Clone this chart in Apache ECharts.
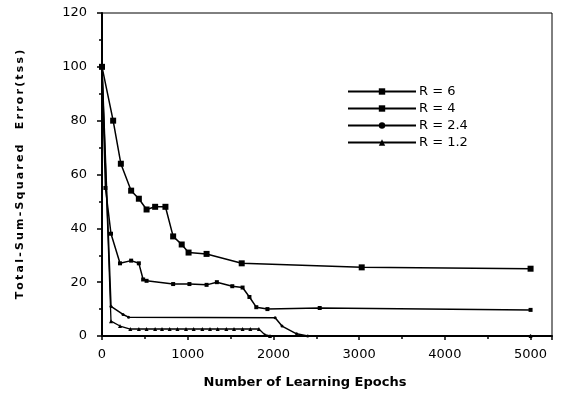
<!DOCTYPE html>
<html><head><meta charset="utf-8">
<script src="https://cdn.jsdelivr.net/npm/echarts@6/dist/echarts.min.js"></script>
<style>html,body{margin:0;padding:0;background:#fff}#c{width:570px;height:394px}</style>
</head><body><div id="c"></div>
<script>
const seriesNames = ['R = 6', 'R = 4', 'R = 2.4', 'R = 1.2'];
const r6 = [[0,100],[130,80],[220,64],[340,54],[430,51],[520,47],[620,48],[740,48],[830,37],[930,34],[1010,31],[1220,30.5],[1630,27],[3030,25.5],[5000,25]];
const r4 = [[0,100],[40,55],[105,38],[210,27],[340,28],[430,27],[480,21],[520,20.5],[830,19.3],[1020,19.3],[1220,19],[1340,20],[1520,18.5],[1640,18],[1720,14.5],[1800,10.7],[1930,10],[2540,10.4],[5000,9.7]];
const r24 = [[0,100],[105,11],[245,8],[310,7],[2020,6.8],[2100,3.7],[2270,0.8],[2400,0],[5000,0]];
const r12 = [[0,100],[105,5.5],[210,3.7],[330,2.6],[430,2.6],[520,2.6],[620,2.6],[700,2.6],[790,2.6],[880,2.6],[980,2.6],[1070,2.6],[1170,2.6],[1260,2.6],[1350,2.6],[1450,2.6],[1540,2.6],[1640,2.6],[1730,2.6],[1830,2.6],[1900,0.5],[1960,0],[5000,0]];
const yTicks = [0,20,40,60,80,100,120];
const xTicks = [0,1000,2000,3000,4000,5000];
const xTitle = 'Number of Learning Epochs';
const yTitleParts = ['Total-Sum-Squared', 'Error(tss)'];

const spaced = s => s.split('').join('\u2009');
const chart = echarts.init(document.getElementById('c'));
const font = 'DejaVu Sans, Verdana, sans-serif';
const mk = (name, data, symbol, size, extra) => Object.assign({
  name, type: 'line', data, symbol, symbolSize: size, showSymbol: true,
  lineStyle: {color: '#000', width: 1.5}, itemStyle: {color: '#000'},
  animation: false
}, extra || {});
chart.setOption({
  animation: false,
  grid: {left: 102, right: 18, top: 13, bottom: 57, show: true, borderColor: '#000', borderWidth: 1},
  legend: {
    orient: 'vertical', left: 342, top: 80, itemWidth: 68, itemHeight: 8, itemGap: 4,
    textStyle: {fontFamily: font, fontSize: 13, color: '#000', padding: [0,0,0,-2]},
    data: seriesNames
  },
  xAxis: {
    type: 'value', min: 0, max: 5250, interval: 1000,
    axisLine: {show: true, onZero: false, lineStyle: {color: '#000', width: 2}},
    axisTick: {show: true, length: 4, lineStyle: {color: '#000', width: 1.5}},
    minorTick: {show: true, splitNumber: 2, length: 3, lineStyle: {color: '#000', width: 1.5}},
    splitLine: {show: false},
    axisLabel: {fontFamily: font, fontSize: 13, color: '#000', margin: 12,
      formatter: v => xTicks.includes(v) ? String(v) : ''},
    name: xTitle, nameLocation: 'middle', nameGap: 40,
    nameTextStyle: {fontFamily: font, fontSize: 13, fontWeight: 'bold', color: '#000', padding: [0, 44, 0, 0]}
  },
  yAxis: {
    type: 'value', min: 0, max: 120, interval: 20,
    axisLine: {show: true, lineStyle: {color: '#000', width: 2}},
    axisTick: {show: true, length: 5, lineStyle: {color: '#000', width: 1.5}},
    minorTick: {show: true, splitNumber: 2, length: 3, lineStyle: {color: '#000', width: 1.5}},
    splitLine: {show: false},
    axisLabel: {fontFamily: font, fontSize: 13, color: '#000', margin: 15,
      formatter: v => yTicks.includes(v) ? String(v) : ''},
    name: yTitleParts.map(spaced).join('    '), nameLocation: 'middle', nameGap: 76,
    nameTextStyle: {fontFamily: font, fontSize: 11, fontWeight: 'bold', color: '#000'}
  },
  series: [
    mk(seriesNames[0], r6, 'rect', 6),
    mk(seriesNames[1], r4, 'rect', 4),
    mk(seriesNames[2], r24, 'circle', 3),
    mk(seriesNames[3], r12, 'triangle', 4, {lineStyle: {color: '#000', width: 1.3}})
  ]
});
</script></body></html>
